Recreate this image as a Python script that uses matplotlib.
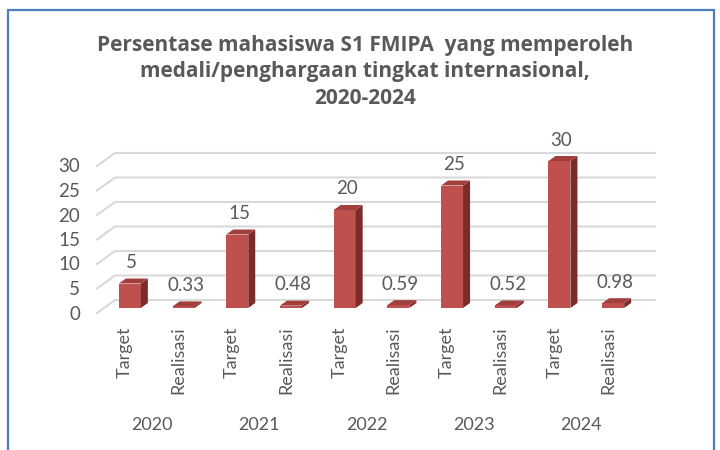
import matplotlib
matplotlib.use('Agg')
import matplotlib.pyplot as plt
from matplotlib.patches import Polygon, Rectangle

years = ['2020', '2021', '2022', '2023', '2024']
series_names = ['Target', 'Realisasi']
target = [5, 15, 20, 25, 30]
realisasi = [0.33, 0.48, 0.59, 0.52, 0.98]
yticks = [0, 5, 10, 15, 20, 25, 30]
title = ('Persentase mahasiswa S1 FMIPA  yang memperoleh\n'
         'medali/penghargaan tingkat internasional,\n'
         '2020-2024')

plt.rcParams['font.family'] = ['Lato', 'DejaVu Sans']
txt_color = '#595959'

# interleave target / realisasi per year
values = []
labels = []
for t, r in zip(target, realisasi):
    values += [t, r]
    labels += series_names
xs = list(range(len(values)))

fig = plt.figure(figsize=(7.2, 4.5), dpi=100)
ax = fig.add_axes([103/720, (450-308)/450, 537/720, 147/450])
ax.set_xlim(-0.5, len(values) - 0.5)
ax.set_ylim(0, 30)
ax.axis('off')

# pixels per data unit, used for the fake 3d depth
sx = 537 / len(values)
sy = 147 / 30.0

def off(x, y, dxp, dyp):
    return (x + dxp / sx, y + dyp / sy)

# floor/back wall gridlines
for v in yticks:
    f = off(-0.5, v, -6, -5)
    b = off(-0.5, v, 12, 8)
    r = off(len(values) - 0.5, v, 15, 8)
    ax.plot([f[0], b[0], r[0]], [f[1], b[1], r[1]], color='#D9D9D9',
            lw=1.5, clip_on=False, zorder=1, solid_joinstyle='miter')
    ax.annotate(str(v), xy=(-0.5, v), xytext=(-23, -6), textcoords='offset pixels',
                ha='right', va='center', fontsize=13.5, color=txt_color)

w = 22 / sx
ax.bar(xs, values, width=w, color='#C0504D', zorder=3, clip_on=False)
for x, v in zip(xs, values):
    side = [(x + w/2, 0), off(x + w/2, 0, 7, 5), off(x + w/2, v, 7, 5), (x + w/2, v)]
    top = [(x - w/2, v), (x + w/2, v), off(x + w/2, v, 7, 5), off(x - w/2, v, 7, 5)]
    ax.add_patch(Polygon(side, closed=True, facecolor='#7B2C2A', edgecolor='none',
                         zorder=3, clip_on=False))
    ax.add_patch(Polygon(top, closed=True, facecolor='#A23F3C', edgecolor='none',
                         zorder=3, clip_on=False))
    ax.annotate('{:g}'.format(v), xy=(x, v), xytext=(2, 21), textcoords='offset pixels',
                ha='center', va='center', fontsize=13.5, color=txt_color)

for x, lbl in zip(xs, labels):
    ax.annotate(lbl, xy=(x, 0), xytext=(-5, -18), textcoords='offset pixels',
                rotation=90, ha='center', va='top', fontsize=13, color=txt_color)

for i, yr in enumerate(years):
    ax.annotate(yr, xy=(2*i + 0.5, 0), xytext=(-5, -117), textcoords='offset pixels',
                ha='center', va='center', fontsize=13, color=txt_color)

fig.text(365/720, 1 - 72/450, title, ha='center', va='center', fontsize=15,
         fontweight='bold', color=txt_color, linespacing=1.33,
         family=['Open Sans', 'DejaVu Sans'])

fig.add_artist(Rectangle((8/720, -0.1), (714-8)/720, (450-10)/450 + 0.1,
                         transform=fig.transFigure, fill=False,
                         edgecolor='#4A7EC0', lw=1.6, clip_on=False))

fig.savefig('out.png', dpi=100)
